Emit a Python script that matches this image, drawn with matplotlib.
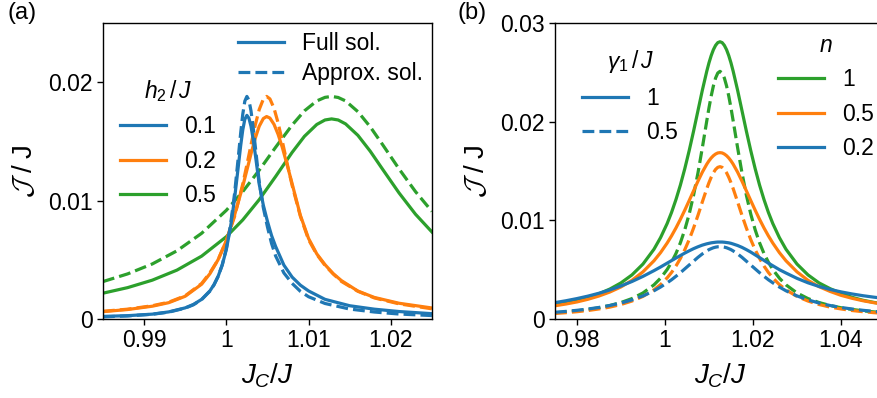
import matplotlib
matplotlib.use("Agg")
import matplotlib.pyplot as plt
from matplotlib.lines import Line2D

plt.rcParams["font.family"] = ["Liberation Sans", "DejaVu Sans"]
plt.rcParams["font.size"] = 16.5
plt.rcParams["mathtext.fontset"] = "custom"
plt.rcParams["mathtext.rm"] = "Liberation Sans"
plt.rcParams["mathtext.it"] = "Liberation Sans:italic"
plt.rcParams["mathtext.cal"] = "cmsy10"

BLUE, ORANGE, GREEN = "#1f77b4", "#ff7f0e", "#2ca02c"

# ---- panel (a): current vs J_C/J for several h2/J (solid: full, dashed: approx.) ----
h2_labels = ["0.1", "0.2", "0.5"]

x_a_blue = [0.985, 0.988, 0.991, 0.993, 0.995, 0.996, 0.997, 0.998, 0.9985, 0.999,
            0.9995, 1.0, 1.0005, 1.001, 1.0015, 1.00175, 1.002, 1.00225, 1.0025, 1.00275,
            1.003, 1.00325, 1.0035, 1.004, 1.0045, 1.005, 1.0055, 1.006, 1.007, 1.008,
            1.009, 1.010, 1.012, 1.015, 1.018, 1.021, 1.025]
full_a_blue = [0.00022, 0.00028, 0.00041, 0.0006, 0.00094, 0.00123, 0.00166, 0.00237, 0.0029, 0.0036,
               0.00455, 0.00587, 0.0077, 0.01015, 0.01314, 0.01466, 0.01597, 0.01687, 0.0172, 0.01696,
               0.01628, 0.01525, 0.01402, 0.01139, 0.00961, 0.00825, 0.00705, 0.00612, 0.00455, 0.00354,
               0.00286, 0.00237, 0.00166, 0.00112, 0.00083, 0.00063, 0.00045]
approx_a_blue = [0.00018, 0.00026, 0.0004, 0.00058, 0.00092, 0.0012, 0.00164, 0.00235, 0.00288, 0.00359,
                 0.00457, 0.00594, 0.00789, 0.01057, 0.01397, 0.01574, 0.0173, 0.0184, 0.0188, 0.01848,
                 0.01758, 0.01627, 0.01472, 0.01158, 0.0094, 0.00778, 0.00638, 0.00532, 0.00389, 0.00301,
                 0.00234, 0.00188, 0.00131, 0.00084, 0.00059, 0.00042, 0.00029]

x_a_orange = [0.985, 0.988, 0.991, 0.993, 0.995, 0.997, 0.998, 0.999, 1.0, 1.001,
              1.002, 1.0025, 1.003, 1.0035, 1.004, 1.0045, 1.0049, 1.0053, 1.0058, 1.0063,
              1.0068, 1.0075, 1.008, 1.009, 1.010, 1.011, 1.012, 1.013, 1.014, 1.016,
              1.018, 1.021, 1.025]
full_a_orange = [0.00062, 0.0008, 0.00108, 0.00138, 0.00192, 0.00294, 0.00382, 0.00501, 0.00663, 0.00877,
                 0.01121, 0.01257, 0.01395, 0.01523, 0.01628, 0.01693, 0.0171, 0.01697, 0.01644, 0.01559,
                 0.01451, 0.01275, 0.01143, 0.00876, 0.0068, 0.0055, 0.00459, 0.00383, 0.00324, 0.00236,
                 0.00182, 0.00133, 0.00093]
approx_a_orange = [0.00065, 0.00083, 0.00112, 0.00142, 0.00196, 0.0030, 0.0039, 0.0050, 0.0066, 0.00865,
                   0.0114, 0.01302, 0.0147, 0.01633, 0.01769, 0.01857, 0.0188, 0.01859, 0.0178, 0.01655,
                   0.01504, 0.01281, 0.01129, 0.00869, 0.0067, 0.00545, 0.00453, 0.0038, 0.00317, 0.00234,
                   0.00178, 0.00128, 0.00086]

x_a_green = [0.985, 0.988, 0.991, 0.994, 0.997, 1.0, 1.002, 1.004, 1.006, 1.008,
             1.0095, 1.011, 1.012, 1.0128, 1.0136, 1.0145, 1.016, 1.0175, 1.019, 1.021,
             1.023, 1.025]
full_a_green = [0.00218, 0.00265, 0.00328, 0.00413, 0.00531, 0.00695, 0.00837, 0.01008, 0.01204, 0.01407,
                0.01543, 0.01643, 0.01681, 0.0169, 0.01681, 0.01648, 0.01551, 0.01417, 0.01265, 0.01065,
                0.00885, 0.00735]
approx_a_green = [0.00316, 0.00381, 0.00465, 0.00576, 0.00724, 0.00918, 0.01076, 0.01257, 0.01451, 0.01638,
                  0.01758, 0.01842, 0.01872, 0.0188, 0.01871, 0.01842, 0.01751, 0.01623, 0.01473, 0.01268,
                  0.01076, 0.00909]

# ---- panel (b): current vs J_C/J for several n; gamma1/J = 1 (solid) and 0.5 (dashed) ----
n_labels = ["1", "0.5", "0.2"]
gamma_labels = ["1", "0.5"]

x_b = [0.975, 0.9775, 0.98, 0.9825, 0.985, 0.9875, 0.99, 0.9925, 0.995, 0.9975,
       0.999, 1.0005, 1.0015, 1.0025, 1.0035, 1.0045, 1.0055, 1.0065, 1.0075, 1.0085,
       1.0095, 1.01, 1.0105, 1.011, 1.0115, 1.012, 1.0125, 1.013, 1.0135, 1.014,
       1.0145, 1.015, 1.0155, 1.0165, 1.0175, 1.0185, 1.0195, 1.0205, 1.0215, 1.0225,
       1.0235, 1.0245, 1.026, 1.0275, 1.03, 1.0325, 1.035, 1.0375, 1.04, 1.0425,
       1.045, 1.0475, 1.05]
g1_n1 = [0.00144, 0.00164, 0.00188, 0.00218, 0.00256, 0.00304, 0.00366, 0.00447, 0.00557, 0.00707,
         0.00825, 0.00968, 0.01081, 0.01211, 0.01357, 0.01523, 0.01706, 0.01904, 0.02112, 0.0232,
         0.02511, 0.02596, 0.02669, 0.02729, 0.02773, 0.02801, 0.0281, 0.02801, 0.02773, 0.02729,
         0.02669, 0.02596, 0.02511, 0.0232, 0.02112, 0.01904, 0.01706, 0.01523, 0.01357, 0.01211,
         0.01081, 0.00968, 0.00825, 0.00707, 0.00557, 0.00447, 0.00366, 0.00308, 0.0026, 0.0022,
         0.0019, 0.00168, 0.0015]
g05_n1 = [0.00063, 0.00072, 0.00083, 0.00097, 0.00114, 0.00137, 0.00167, 0.00207, 0.00264, 0.00346,
          0.00414, 0.00502, 0.00576, 0.00664, 0.00772, 0.00904, 0.01063, 0.01255, 0.01481, 0.01738,
          0.02008, 0.02139, 0.02259, 0.02362, 0.02442, 0.02493, 0.0251, 0.02493, 0.02442, 0.02362,
          0.02259, 0.02139, 0.02008, 0.01738, 0.01481, 0.01255, 0.01063, 0.00904, 0.00772, 0.00664,
          0.00576, 0.00502, 0.00414, 0.00346, 0.00264, 0.00207, 0.00167, 0.00137, 0.00114, 0.00097,
          0.00083, 0.00072, 0.00063]
g1_n05 = [0.00134, 0.00152, 0.00173, 0.002, 0.00233, 0.00274, 0.00325, 0.00392, 0.00478, 0.0059,
          0.00673, 0.0077, 0.00843, 0.00923, 0.0101, 0.01103, 0.012, 0.01299, 0.01397, 0.01489,
          0.01569, 0.01603, 0.01632, 0.01655, 0.01672, 0.01683, 0.01686, 0.01683, 0.01672, 0.01655,
          0.01632, 0.01603, 0.01569, 0.01489, 0.01397, 0.01299, 0.012, 0.01103, 0.0101, 0.00923,
          0.00843, 0.0077, 0.00673, 0.0059, 0.00478, 0.00392, 0.00328, 0.0028, 0.0024, 0.0021,
          0.00185, 0.00165, 0.00148]
g05_n05 = [0.00056, 0.00064, 0.00074, 0.00086, 0.00102, 0.00121, 0.00147, 0.00182, 0.00229, 0.00296,
           0.00349, 0.00417, 0.00472, 0.00537, 0.00613, 0.00702, 0.00804, 0.00922, 0.01051, 0.01188,
           0.01321, 0.01382, 0.01436, 0.01482, 0.01516, 0.01537, 0.01544, 0.01537, 0.01516, 0.01482,
           0.01436, 0.01382, 0.01321, 0.01188, 0.01051, 0.00922, 0.00804, 0.00702, 0.00613, 0.00537,
           0.00472, 0.00417, 0.00349, 0.00296, 0.00229, 0.00182, 0.00147, 0.00121, 0.00102, 0.00086,
           0.00074, 0.00064, 0.00056]
g1_n02 = [0.00166, 0.00185, 0.00207, 0.00232, 0.00261, 0.00295, 0.00335, 0.0038, 0.00432, 0.0049,
          0.00527, 0.00566, 0.00592, 0.00618, 0.00643, 0.00668, 0.00691, 0.00713, 0.00732, 0.00749,
          0.00762, 0.00767, 0.00772, 0.00775, 0.00778, 0.0078, 0.0078, 0.0078, 0.00778, 0.00775,
          0.00772, 0.00767, 0.0076, 0.00745, 0.00726, 0.00703, 0.00678, 0.0065, 0.00622, 0.00594,
          0.00566, 0.0054, 0.005, 0.00466, 0.00412, 0.00367, 0.0033, 0.003, 0.00275, 0.00254,
          0.00236, 0.00221, 0.00208]
g05_n02 = [0.00068, 0.00077, 0.00088, 0.00101, 0.00117, 0.00137, 0.00162, 0.00194, 0.00234, 0.00286,
           0.00324, 0.00367, 0.00398, 0.00433, 0.00469, 0.00508, 0.00547, 0.00586, 0.00625, 0.0066,
           0.0069, 0.00703, 0.00713, 0.00722, 0.00728, 0.00732, 0.00733, 0.00732, 0.00728, 0.00722,
           0.00713, 0.00703, 0.0069, 0.0066, 0.00625, 0.00586, 0.00547, 0.00508, 0.00469, 0.00433,
           0.00398, 0.00367, 0.00324, 0.00286, 0.00234, 0.00194, 0.00162, 0.00137, 0.00117, 0.00101,
           0.00088, 0.00077, 0.00068]

xticks_a = [0.99, 1.0, 1.01, 1.02]
xticklabels_a = ["0.99", "1", "1.01", "1.02"]
yticks_a = [0, 0.01, 0.02]
yticklabels_a = ["0", "0.01", "0.02"]
xticks_b = [0.98, 1.0, 1.02, 1.04]
xticklabels_b = ["0.98", "1", "1.02", "1.04"]
yticks_b = [0, 0.01, 0.02, 0.03]
yticklabels_b = ["0", "0.01", "0.02", "0.03"]

LW = 2.3
FS = 16.5


def style_axes(ax):
    ax.tick_params(direction="out", length=4, width=1, labelsize=FS,
                   top=False, right=False)
    for spine in ax.spines.values():
        spine.set_linewidth(1)
    ax.set_xlabel(r"$J_C/J$", fontsize=20)
    ax.set_ylabel(r"$\mathcal{J}\;/\;\mathrm{J}$", fontsize=20)
    ax.xaxis.set_label_coords(0.5, -0.145)
    ax.yaxis.set_label_coords(-0.198, 0.5)


fig = plt.figure(figsize=(8.77, 3.98), dpi=100)
ax_a = fig.add_axes([0.1174, 0.1985, 0.3751, 0.7437])
ax_b = fig.add_axes([0.6328, 0.1985, 0.3763, 0.7437])

# panel (a)
for x, full, approx, c in [(x_a_green, full_a_green, approx_a_green, GREEN),
                           (x_a_orange, full_a_orange, approx_a_orange, ORANGE),
                           (x_a_blue, full_a_blue, approx_a_blue, BLUE)]:
    ax_a.plot(x, full, color=c, lw=LW)
    ax_a.plot(x, approx, color=c, lw=LW, ls="--")
ax_a.set_xlim(0.985, 1.025)
ax_a.set_ylim(0, 0.025)
ax_a.set_xticks(xticks_a, xticklabels_a)
ax_a.set_yticks(yticks_a, yticklabels_a)
style_axes(ax_a)

col_handles = [Line2D([], [], color=c, lw=LW) for c in (BLUE, ORANGE, GREEN)]
leg1 = ax_a.legend(col_handles, h2_labels, title=r"$h_2\,/\,J$", title_fontsize=FS,
                   frameon=False, loc="upper left", bbox_to_anchor=(0.024, 0.845),
                   borderaxespad=0, fontsize=FS)
ax_a.add_artist(leg1)
sty_handles = [Line2D([], [], color=BLUE, lw=LW), Line2D([], [], color=BLUE, lw=LW, ls="--")]
ax_a.legend(sty_handles, ["Full sol.", "Approx. sol."], frameon=False, loc="upper left",
            bbox_to_anchor=(0.383, 1.0), borderaxespad=0, labelspacing=0.28, fontsize=FS)

# panel (b)
for full, approx, c in [(g1_n1, g05_n1, GREEN), (g1_n05, g05_n05, ORANGE), (g1_n02, g05_n02, BLUE)]:
    ax_b.plot(x_b, full, color=c, lw=LW)
    ax_b.plot(x_b, approx, color=c, lw=LW, ls="--")
ax_b.set_xlim(0.975, 1.05)
ax_b.set_ylim(0, 0.03)
ax_b.set_xticks(xticks_b, xticklabels_b)
ax_b.set_yticks(yticks_b, yticklabels_b)
style_axes(ax_b)

g_handles = [Line2D([], [], color=BLUE, lw=LW), Line2D([], [], color=BLUE, lw=LW, ls="--")]
leg2 = ax_b.legend(g_handles, gamma_labels, title=r"$\gamma_1\,/\,J$", title_fontsize=FS,
                   frameon=False, loc="upper left", bbox_to_anchor=(0.055, 0.945),
                   borderaxespad=0, fontsize=FS)
ax_b.add_artist(leg2)
n_handles = [Line2D([], [], color=c, lw=LW) for c in (GREEN, ORANGE, BLUE)]
ax_b.legend(n_handles, n_labels, title=r"$n$", title_fontsize=FS, frameon=False,
            loc="upper left", bbox_to_anchor=(0.648, 0.995), borderaxespad=0, fontsize=FS)

fig.text(0.008, 0.995, "(a)", fontsize=17, va="top", ha="left")
fig.text(0.522, 0.995, "(b)", fontsize=17, va="top", ha="left")

fig.savefig("out.png", dpi=100)
